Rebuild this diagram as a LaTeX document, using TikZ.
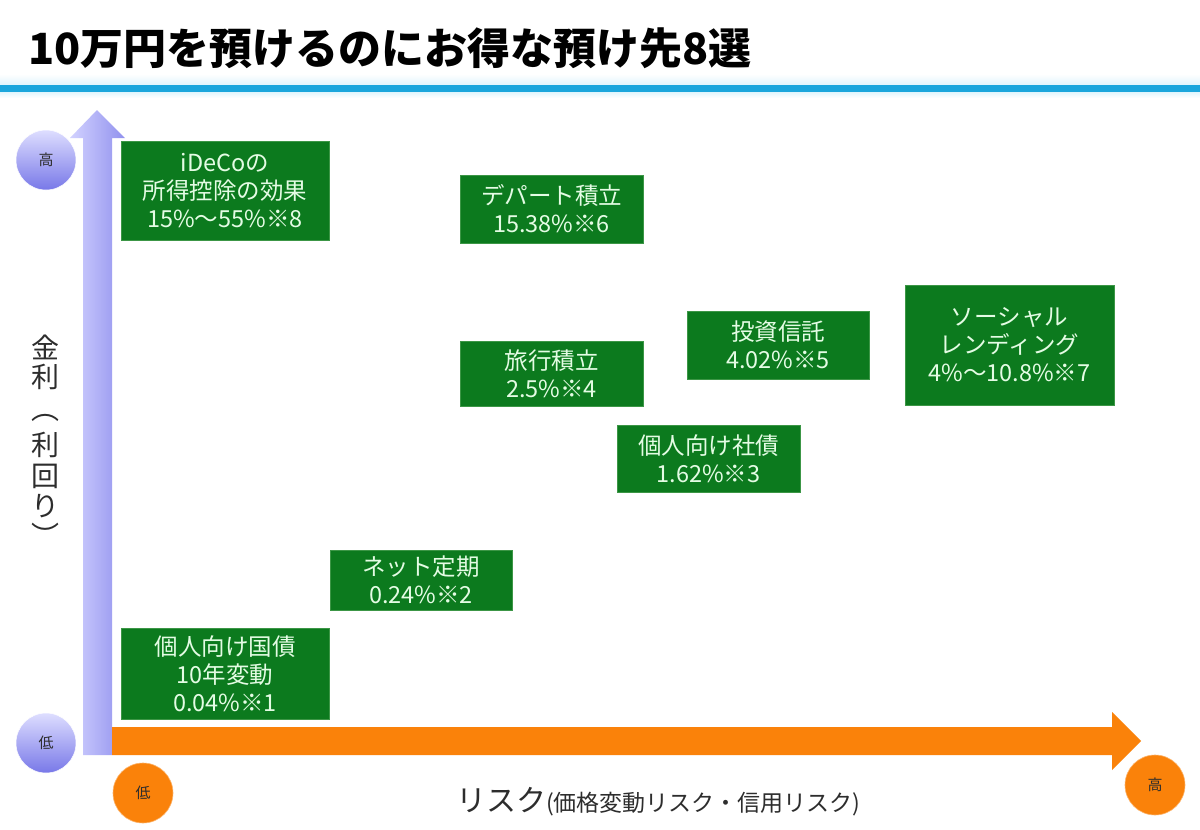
\documentclass[tikz,border=0pt]{standalone}
\usepackage{fontspec}
\setmainfont{Noto Sans CJK JP}
\definecolor{boxgreen}{RGB}{12,122,30}
\definecolor{boxedge}{RGB}{60,150,70}
\definecolor{boxtext}{RGB}{228,252,228}
\definecolor{barblue}{RGB}{27,166,220}
\definecolor{paleblue}{RGB}{225,245,252}
\definecolor{vleft}{RGB}{210,210,255}
\definecolor{vright}{RGB}{145,145,238}
\definecolor{ctop}{RGB}{222,222,255}
\definecolor{cbot}{RGB}{120,120,232}
\definecolor{orangeax}{RGB}{250,130,10}
\definecolor{labgray}{RGB}{45,45,45}
\tikzset{
  gbox/.style={fill=boxgreen, draw=boxedge, line width=0.6pt, text=boxtext, align=center,
    inner sep=0pt, font=\fontsize{23.5}{28}\selectfont},
  pcirc/.style={circle, minimum size=60pt, inner sep=0pt, top color=ctop, bottom color=cbot,
    draw=white, line width=0.5pt, text=labgray, font=\fontsize{15}{15}\selectfont},
  ocirc/.style={circle, minimum size=60pt, inner sep=0pt, fill=orangeax, draw=orangeax!60,
    line width=0.6pt, text=labgray, font=\fontsize{15}{15}\selectfont},
  ylab/.style={inner sep=0pt, text=labgray, font=\fontsize{28}{28}\selectfont}
}
\begin{document}
\begin{tikzpicture}[x=1pt,y=-1pt]
\useasboundingbox (0,0) rectangle (1200,830);
\fill[white] (0,0) rectangle (1200,830);
% title
\node[anchor=west, inner sep=0pt, font=\bfseries\fontsize{43}{45}\selectfont] (title) at (28,48) {10万円を預けるのにお得な預け先8選};
% blue rule
\shade[top color=white, bottom color=paleblue] (0,74) rectangle (1200,85);
\fill[barblue] (0,85) rectangle (1200,92);
\shade[top color=paleblue, bottom color=white] (0,92) rectangle (1200,98);
% vertical axis arrow
\shade[left color=vleft, right color=vright] (83,755) -- (83,138) -- (70,138) -- (97,110) -- (125,138) -- (112,138) -- (112,755) -- cycle;
% horizontal axis arrow
\fill[orangeax] (112,727) -- (1112,727) -- (1112,712) -- (1141,741) -- (1112,770) -- (1112,755) -- (112,755) -- cycle;
% circles
\node[pcirc] (yhigh) at (46,160) {高};
\node[pcirc] (ylow) at (46,743) {低};
\node[ocirc] (xlow) at (143,793) {低};
\node[ocirc] (xhigh) at (1155,785) {高};
% y label
\foreach \c/\y [count=\i] in {金/347, 利/377, ︵/418, 利/445, 回/476, り/506, ︶/535}
  \node[ylab] (ylab\i) at (45,\y) {\c};
% x label
\node[anchor=base west, inner sep=0pt, text=labgray, font=\fontsize{30}{30}\selectfont] (xlab) at (456,811)
  {リスク{\fontsize{23}{23}\selectfont(価格変動リスク・信用リスク)}};
% boxes
\node[gbox, minimum width=208pt, minimum height=99pt] (ideco) at (225,190.5) {iDeCoの\\所得控除の効果\\15\%～55\%※8};
\node[gbox, minimum width=183pt, minimum height=68pt] (dept) at (551.5,209) {デパート積立\\15.38\%※6};
\node[gbox, minimum width=182pt, minimum height=68pt] (toshin) at (778,345) {投資信託\\4.02\%※5};
\node[gbox, minimum width=209pt, minimum height=120pt] (social) at (1009.5,345) {ソーシャル\\レンディング\\4\%～10.8\%※7};
\node[gbox, minimum width=183pt, minimum height=65pt] (ryoko) at (551.5,373.5) {旅行積立\\2.5\%※4};
\node[gbox, minimum width=183pt, minimum height=67pt] (shasai) at (708.5,458.5) {個人向け社債\\1.62\%※3};
\node[gbox, minimum width=182pt, minimum height=60pt] (net) at (421,580) {ネット定期\\0.24\%※2};
\node[gbox, minimum width=208pt, minimum height=91pt] (kokusai) at (225,673.5) {個人向け国債\\10年変動\\0.04\%※1};
\end{tikzpicture}
\end{document}
